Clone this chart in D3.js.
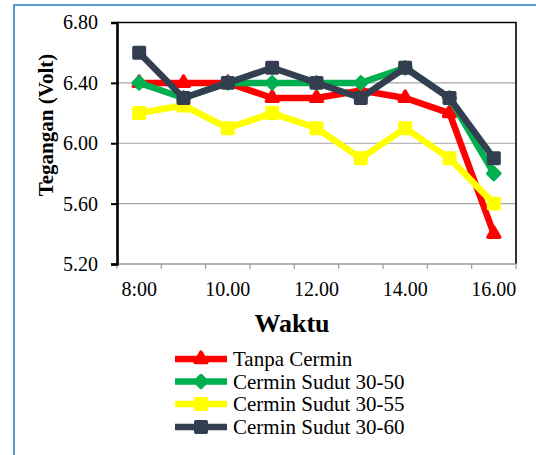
<!DOCTYPE html>
<html><head><meta charset="utf-8">
<script src="https://cdn.jsdelivr.net/npm/d3@7"></script>
<style>body{margin:0;background:#fff} svg{display:block}</style>
</head><body>
<script>
// Voltage readings per hour for each mirror configuration
const categories = ["8:00","9.00","10.00","11.00","12.00","13.00","14.00","15.00","16.00"];
const tickLabels = ["8:00","10.00","12.00","14.00","16.00"];
const yTicks = [5.2, 5.6, 6.0, 6.4, 6.8];
const tanpaCermin = [6.4, 6.4, 6.4, 6.3, 6.3, 6.35, 6.3, 6.2, 5.4];
const sudut3050   = [6.4, 6.3, 6.4, 6.4, 6.4, 6.4, 6.5, 6.3, 5.8];
const sudut3055   = [6.2, 6.25, 6.1, 6.2, 6.1, 5.9, 6.1, 5.9, 5.6];
const sudut3060   = [6.6, 6.3, 6.4, 6.5, 6.4, 6.3, 6.5, 6.3, 5.9];
const seriesNames  = ["Tanpa Cermin", "Cermin Sudut 30-50", "Cermin Sudut 30-55", "Cermin Sudut 30-60"];
const seriesColors = ["#FF0000", "#00B050", "#FFFF00", "#333F50"];

const series = [tanpaCermin, sudut3050, sudut3055, sudut3060].map((v, i) => ({
  name: seriesNames[i], color: seriesColors[i], values: v, kind: ["tri","dia","sq","sq"][i]
}));

const W = 536, H = 455;
const plot = {left: 117, right: 516, top: 22.5, bottom: 264};
const serif = "'Liberation Serif','Times New Roman',serif";

const svg = d3.select("body").append("svg").attr("width", W).attr("height", H);
svg.append("rect").attr("width", W).attr("height", H).attr("fill", "#fff");

// outer frame
svg.append("rect").attr("x", 14).attr("y", 5).attr("width", 540).attr("height", 470)
  .attr("fill", "none").attr("stroke", "#5B9BD5").attr("stroke-width", 2);

const x = d3.scaleBand().domain(categories).range([plot.left, plot.right]).padding(0);
const y = d3.scaleLinear().domain([5.2, 6.8]).range([plot.bottom, plot.top]);
const cx = d => x(d) + x.bandwidth() / 2;

// gridlines
svg.append("g").selectAll("line").data(yTicks.slice(1, -1)).join("line")
  .attr("x1", plot.left).attr("x2", plot.right)
  .attr("y1", d => y(d)).attr("y2", d => y(d))
  .attr("stroke", "#A6A6A6").attr("stroke-width", 1.2);

// plot frame: top and right edges
svg.append("path")
  .attr("d", `M${plot.left},${y(6.8)}H${plot.right}V${plot.bottom}`)
  .attr("fill", "none").attr("stroke", "#000").attr("stroke-width", 1.6);

// x axis baseline and tick marks at category boundaries
svg.append("line").attr("x1", plot.left).attr("x2", plot.right)
  .attr("y1", plot.bottom).attr("y2", plot.bottom)
  .attr("stroke", "#9A9A9A").attr("stroke-width", 1.5);
const bounds = categories.map(c => x(c)).concat([plot.right]);
svg.append("g").selectAll("line").data(bounds).join("line")
  .attr("x1", d => d).attr("x2", d => d)
  .attr("y1", plot.bottom).attr("y2", plot.bottom + 5)
  .attr("stroke", "#9A9A9A").attr("stroke-width", 1.2);

const xAxis = svg.append("g").attr("transform", `translate(0,${plot.bottom})`)
  .attr("font-family", serif)
  .call(d3.axisBottom(x).tickValues(tickLabels).tickSize(0).tickPadding(18));
xAxis.select(".domain").remove();
xAxis.selectAll("text").attr("font-family", serif).attr("font-size", 20).attr("fill", "#000");

// y axis
const yAxis = svg.append("g").attr("transform", `translate(${plot.left},0)`)
  .call(d3.axisLeft(y).tickValues(yTicks).tickFormat(d3.format(".2f")).tickSize(6).tickPadding(13));
yAxis.select(".domain").attr("stroke", "#000").attr("stroke-width", 2.6);
yAxis.selectAll(".tick line").attr("stroke", "#000").attr("stroke-width", 2);
yAxis.selectAll("text").attr("font-family", serif).attr("font-size", 20).attr("fill", "#000");

// axis titles
svg.append("text").attr("transform", `translate(53,125) rotate(-90)`)
  .attr("text-anchor", "middle").attr("font-family", serif).attr("font-weight", "bold")
  .attr("font-size", 21).text("Tegangan (Volt)");
svg.append("text").attr("x", 292).attr("y", 332).attr("text-anchor", "middle")
  .attr("font-family", serif).attr("font-weight", "bold").attr("font-size", 26).text("Waktu");

// marker shapes
function marker(sel, kind, color) {
  let path;
  if (kind === "tri") path = d3.symbol(d3.symbolTriangle, 60)();
  else if (kind === "dia") path = d3.symbol(d3.symbolSquare, 72)();
  else path = d3.symbol(d3.symbolSquare, 110)();
  const p = sel.append("path").attr("d", path)
    .attr("fill", color).attr("stroke", color).attr("stroke-width", 3.5)
    .attr("stroke-linejoin", "round");
  if (kind === "dia") p.attr("transform", "rotate(45)");
  return p;
}

const line = d3.line().x((d, i) => cx(categories[i])).y(d => y(d));
series.forEach(s => {
  const g = svg.append("g");
  g.append("path").attr("d", line(s.values)).attr("fill", "none")
    .attr("stroke", s.color).attr("stroke-width", 6.5).attr("stroke-linejoin", "round");
  s.values.forEach((v, i) => {
    const m = g.append("g").attr("transform", `translate(${cx(categories[i])},${y(v)})`);
    marker(m, s.kind, s.color);
  });
});

// legend
const lg = svg.append("g");
const rowY = [359, 381.5, 404, 427];
series.forEach((s, i) => {
  const r = lg.append("g").attr("transform", `translate(0,${rowY[i]})`);
  r.append("line").attr("x1", 175).attr("x2", 227).attr("y1", 0).attr("y2", 0)
    .attr("stroke", s.color).attr("stroke-width", 6.5);
  const m = r.append("g").attr("transform", "translate(201,0)");
  marker(m, s.kind, s.color);
  r.append("text").attr("x", 233).attr("y", 7).attr("font-family", serif)
    .attr("font-size", 21).attr("fill", "#000").text(s.name);
});
</script>
</body></html>
